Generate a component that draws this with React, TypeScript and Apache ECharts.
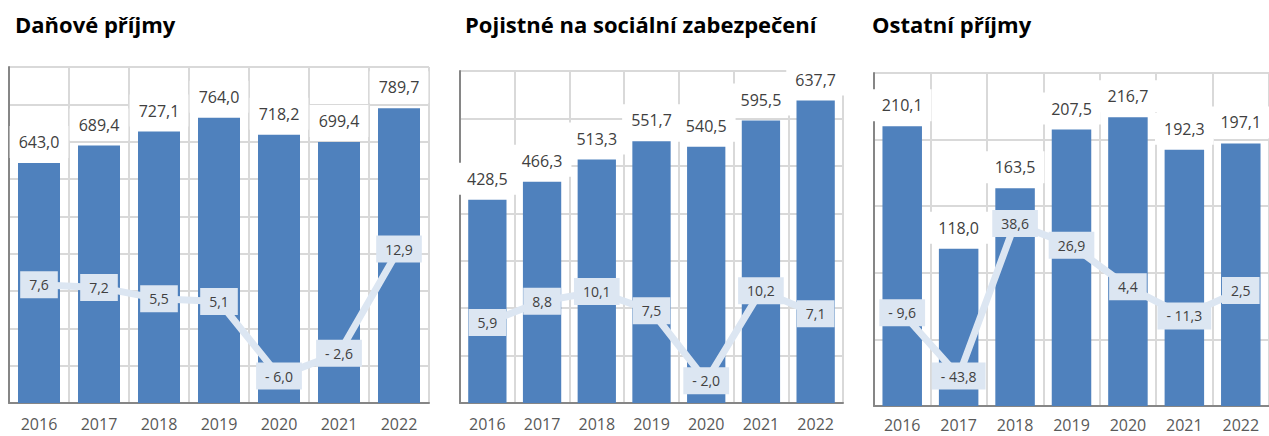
import React, { useEffect, useRef } from "react";
import * as echarts from "echarts";

const years = ["2016", "2017", "2018", "2019", "2020", "2021", "2022"];

const titles = ["Daňové příjmy", "Pojistné na sociální zabezpečení", "Ostatní příjmy"];

const taxRevenue = [643.0, 689.4, 727.1, 764.0, 718.2, 699.4, 789.7];
const taxGrowth = [7.6, 7.2, 5.5, 5.1, -6.0, -2.6, 12.9];

const socialRevenue = [428.5, 466.3, 513.3, 551.7, 540.5, 595.5, 637.7];
const socialGrowth = [5.9, 8.8, 10.1, 7.5, -2.0, 10.2, 7.1];

const otherRevenue = [210.1, 118.0, 163.5, 207.5, 216.7, 192.3, 197.1];
const otherGrowth = [-9.6, -43.8, 38.6, 26.9, 4.4, -11.3, 2.5];

const barAxes = [
  { min: 0, max: 900, interval: 100 },
  { min: 0, max: 700, interval: 100 },
  { min: 0, max: 250, interval: 50 },
];
const lineAxes = [
  { min: -10, max: 40 },
  { min: -5, max: 40 },
  { min: -60, max: 120 },
];

const FONT = "'Open Sans', 'Noto Sans', sans-serif";

function fmt(v: number): string {
  const s = Math.abs(v).toFixed(1).replace(".", ",");
  return v < 0 ? "- " + s : s;
}

export default function App() {
  const ref = useRef<HTMLDivElement>(null);
  useEffect(() => {
    if (!ref.current) return;
    const chart = echarts.init(ref.current, undefined, { renderer: "svg" });
    const grids = [
      { left: 9, top: 67, width: 420, height: 336 },
      { left: 460, top: 71, width: 383, height: 332 },
      { left: 874, top: 73, width: 401, height: 333 },
    ];
    const titlePos = [15, 465, 872];
    const barData = [taxRevenue, socialRevenue, otherRevenue];
    const lineData = [taxGrowth, socialGrowth, otherGrowth];

    const xAxis: any[] = [];
    const yAxis: any[] = [];
    const series: any[] = [];
    grids.forEach((g, i) => {
      xAxis.push({
        type: "category",
        gridIndex: i,
        data: years,
        boundaryGap: true,
        axisLine: { show: true, lineStyle: { color: "#868686", width: 2 } },
        axisTick: { show: false },
        splitLine: { show: true, interval: 0, lineStyle: { color: "#d9d9d9", width: 2 } },
        axisLabel: {
          interval: 0,
          fontSize: 16,
          lineHeight: 16,
          color: "#595959",
          fontFamily: FONT,
          margin: i === 2 ? 11 : 13,
        },
      });
      yAxis.push({
        type: "value",
        gridIndex: i,
        min: barAxes[i].min,
        max: barAxes[i].max,
        interval: barAxes[i].interval,
        axisLine: { show: true, lineStyle: { color: "#868686", width: 2 } },
        axisTick: { show: false },
        axisLabel: { show: false },
        splitLine: { show: true, lineStyle: { color: "#d9d9d9", width: 2 } },
      });
      yAxis.push({
        type: "value",
        gridIndex: i,
        position: "right",
        min: lineAxes[i].min,
        max: lineAxes[i].max,
        show: false,
        splitLine: { show: false },
      });
      series.push({
        type: "bar",
        xAxisIndex: i,
        yAxisIndex: i * 2,
        data: barData[i],
        barCategoryGap: "30%",
        itemStyle: { color: "#4f81bd" },
        label: {
          show: true,
          position: "top",
          distance: 5,
          formatter: (p: any) => fmt(p.value),
          fontSize: 16,
          lineHeight: 20,
          color: "#404040",
          fontFamily: FONT,
          backgroundColor: "#ffffff",
          padding: [6, 9],
        },
        z: 2,
      });
      series.push({
        type: "line",
        xAxisIndex: i,
        yAxisIndex: i * 2 + 1,
        data: lineData[i],
        symbol: "circle",
        symbolSize: 1,
        showSymbol: true,
        itemStyle: { color: "#dce6f2" },
        lineStyle: { color: "#dce6f2", width: 7 },
        label: {
          show: true,
          position: "inside",
          formatter: (p: any) => fmt(p.value),
          fontSize: 14,
          lineHeight: 17,
          color: "#404040",
          fontFamily: FONT,
          backgroundColor: "#dce6f2",
          padding: [5, 9],
        },
        z: 3,
      });
    });

    chart.setOption({
      animation: false,
      title: titles.map((t, i) => ({
        text: t,
        left: titlePos[i],
        top: 13,
        padding: 0,
        textStyle: {
          fontSize: 22,
          fontWeight: "bold",
          color: "#000000",
          fontFamily: FONT,
        },
      })),
      grid: grids,
      xAxis,
      yAxis,
      series,
    });
    return () => chart.dispose();
  }, []);
  return (
    <div
      ref={ref}
      style={{ position: "absolute", left: 0, top: 0, width: 1269, height: 436, background: "#fff" }}
    />
  );
}
